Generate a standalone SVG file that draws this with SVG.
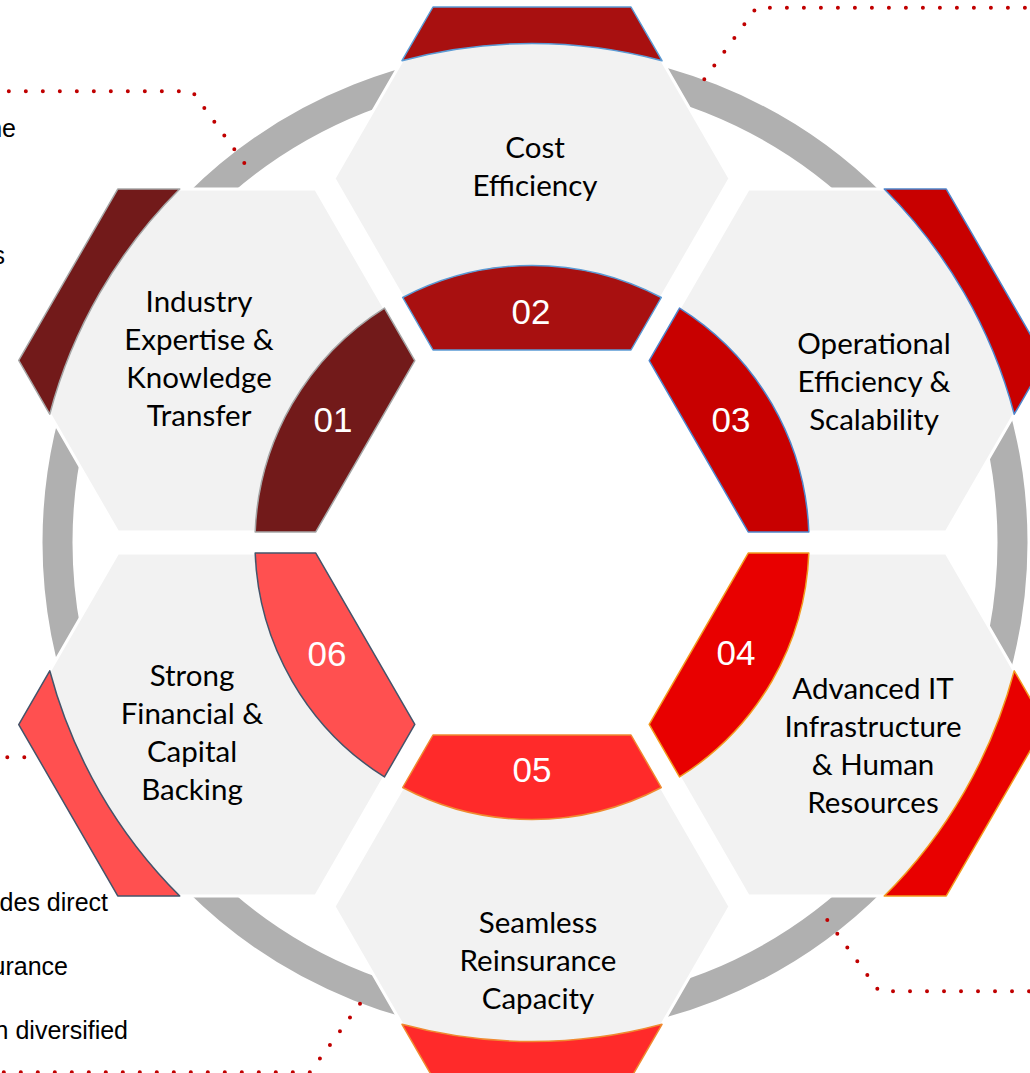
<svg xmlns="http://www.w3.org/2000/svg" xmlns:xlink="http://www.w3.org/1999/xlink" width="1030" height="1073" viewBox="0 0 1030 1073">
  <defs>
    <style>
      .hex { fill: #F2F2F2; stroke: #FFFFFF; stroke-width: 3; }
      .band { stroke-width: 1.5; stroke-linejoin: round; }
      .label { font-family: Lato, "Liberation Sans", sans-serif; font-size: 29.5px; fill: #000000; text-anchor: middle; }
      .num { font-family: "Liberation Sans", Arial, sans-serif; font-size: 35px; fill: #FFFFFF; text-anchor: middle; }
      .note { font-family: "Liberation Sans", Arial, sans-serif; font-size: 25px; fill: #000000; text-anchor: end; }
      .dots { fill: none; stroke: #C00000; stroke-width: 4; stroke-linecap: round; stroke-dasharray: 0 17; }
    </style>
    <!-- one hexagon in the top slot; the other five are rotations about the ring centre -->
    <polygon id="hex-shape" points="433,7 631,7 730,178.5 631,350 433,350 334,178.5"/>
    <!-- outer cap: part of the hexagon beyond r=499 -->
    <path id="cap-shape" d="M662,60.7 L631,7 L433,7 L402,60.7 A499,499 0 0 1 662,60.7 Z"/>
    <!-- inner block: part of the hexagon inside r=277 -->
    <path id="inner-shape" d="M433,350 L631,350 L661.3,297.5 A277,277 0 0 0 402.7,297.5 Z"/>
  </defs>

  <rect width="1030" height="1073" fill="#FFFFFF"/>

  <!-- grey ring behind the hexagons -->
  <g id="ring">
    <circle cx="535" cy="542.5" r="477.5" fill="none" stroke="#B0B0B0" stroke-width="30"/>
  </g>

  <!-- dotted leader lines -->
  <g id="connectors">
    <path class="dots" d="M244.3,163 L192.2,91.3 L0,91.3"/>
    <path class="dots" d="M704.3,79.3 L756.5,7.7 L1030,7.7"/>
    <path class="dots" d="M827.3,920 L879.2,991.3 L1030,991.3"/>
    <path class="dots" d="M360,1003.7 L310,1072.2 L0,1072.2"/>
    <path class="dots" d="M7.3,757.3 L24.5,757.3"/>
  </g>

  <!-- side notes, running off the left edge -->
  <g id="side-notes">
    <text class="note" x="16" y="137">ne</text>
    <text class="note" x="5" y="264">s</text>
    <text class="note" x="108" y="911">des direct</text>
    <text class="note" x="68" y="975">urance</text>
    <text class="note" x="128" y="1039">n diversified</text>
  </g>

  <g id="node-01">
    <g transform="rotate(-60 532 542.5)">
      <use xlink:href="#hex-shape" class="hex"/>
      <use xlink:href="#cap-shape" class="band" fill="#721A1A" stroke="#A6A6A6"/>
      <use xlink:href="#inner-shape" class="band" fill="#721A1A" stroke="#A6A6A6"/>
    </g>
    <text class="num" x="333" y="432">01</text>
    <text class="label" x="199"><tspan x="199" y="312">Industry</tspan><tspan x="199" y="350">Expertise &amp;</tspan><tspan x="199" y="388">Knowledge</tspan><tspan x="199" y="426">Transfer</tspan></text>
  </g>

  <g id="node-02">
    <g>
      <use xlink:href="#hex-shape" class="hex"/>
      <use xlink:href="#cap-shape" class="band" fill="#A81010" stroke="#5B9BD5"/>
      <use xlink:href="#inner-shape" class="band" fill="#A81010" stroke="#5B9BD5"/>
    </g>
    <text class="num" x="531" y="324">02</text>
    <text class="label" x="535"><tspan x="535" y="158">Cost</tspan><tspan x="535" y="196">Efficiency</tspan></text>
  </g>

  <g id="node-03">
    <g transform="rotate(60 532 542.5)">
      <use xlink:href="#hex-shape" class="hex"/>
      <use xlink:href="#cap-shape" class="band" fill="#C80000" stroke="#4F86CC"/>
      <use xlink:href="#inner-shape" class="band" fill="#C80000" stroke="#4F86CC"/>
    </g>
    <text class="num" x="731" y="432">03</text>
    <text class="label" x="874"><tspan x="874" y="354">Operational</tspan><tspan x="874" y="392">Efficiency &amp;</tspan><tspan x="874" y="430">Scalability</tspan></text>
  </g>

  <g id="node-04">
    <g transform="rotate(120 532 542.5)">
      <use xlink:href="#hex-shape" class="hex"/>
      <use xlink:href="#cap-shape" class="band" fill="#E80000" stroke="#F29A1F"/>
      <use xlink:href="#inner-shape" class="band" fill="#E80000" stroke="#F29A1F"/>
    </g>
    <text class="num" x="736" y="665">04</text>
    <text class="label" x="873"><tspan x="873" y="699">Advanced IT</tspan><tspan x="873" y="737">Infrastructure</tspan><tspan x="873" y="775">&amp; Human</tspan><tspan x="873" y="813">Resources</tspan></text>
  </g>

  <g id="node-05">
    <g transform="rotate(180 532 542.5)">
      <use xlink:href="#hex-shape" class="hex"/>
      <use xlink:href="#cap-shape" class="band" fill="#FF2A2A" stroke="#F08A30"/>
      <use xlink:href="#inner-shape" class="band" fill="#FF2A2A" stroke="#F08A30"/>
    </g>
    <text class="num" x="532" y="782">05</text>
    <text class="label" x="538"><tspan x="538" y="933">Seamless</tspan><tspan x="538" y="971">Reinsurance</tspan><tspan x="538" y="1009">Capacity</tspan></text>
  </g>

  <g id="node-06">
    <g transform="rotate(240 532 542.5)">
      <use xlink:href="#hex-shape" class="hex"/>
      <use xlink:href="#cap-shape" class="band" fill="#FF5050" stroke="#44546A"/>
      <use xlink:href="#inner-shape" class="band" fill="#FF5050" stroke="#44546A"/>
    </g>
    <text class="num" x="327" y="666">06</text>
    <text class="label" x="192"><tspan x="192" y="686">Strong</tspan><tspan x="192" y="724">Financial &amp;</tspan><tspan x="192" y="762">Capital</tspan><tspan x="192" y="800">Backing</tspan></text>
  </g>
</svg>
